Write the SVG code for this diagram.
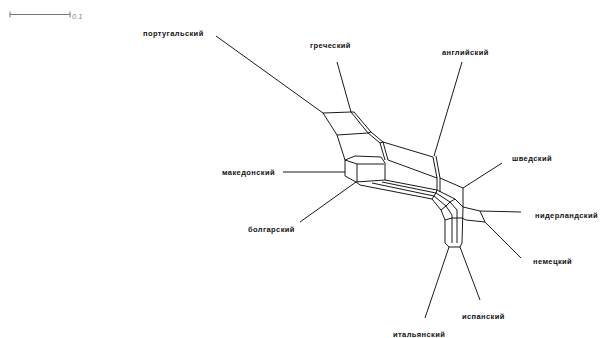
<svg xmlns="http://www.w3.org/2000/svg" width="602" height="338" viewBox="0 0 602 338">
<style>
.lbl{font-family:"Liberation Sans",Arial,sans-serif;font-size:7.5px;font-weight:bold;letter-spacing:0.4px;fill:#111}
.e{fill:none;stroke:#000;stroke-width:0.9;stroke-linejoin:round}
.sc{fill:none;stroke:#777;stroke-width:1}
</style>
<rect width="602" height="338" fill="#fff"/>
<g id="scale">
<path class="sc" d="M10 14.5H70M10 11.5V17.5M70 11.5V17.5"/>
<text x="72" y="19" font-family="Liberation Sans,Arial,sans-serif" font-size="7.5" font-style="italic" fill="#888">0.1</text>
</g>
<g id="portuguese"><path class="e" d="M216 36L323 113"/><text class="lbl" x="143" y="36">португальский</text></g>
<g id="greek"><path class="e" d="M337 62L351 112"/><text class="lbl" x="310" y="48">греческий</text></g>
<g id="english"><path class="e" d="M462 62L434 156"/><text class="lbl" x="442" y="55">английский</text></g>
<g id="swedish"><path class="e" d="M502 163L463 188"/><text class="lbl" x="512" y="161">шведский</text></g>
<g id="dutch"><path class="e" d="M521 212L480 211"/><text class="lbl" x="535" y="218">нидерландский</text></g>
<g id="german"><path class="e" d="M485 222L521 258"/><text class="lbl" x="533" y="264">немецкий</text></g>
<g id="spanish"><path class="e" d="M460 247L480 300"/><text class="lbl" x="462" y="319">испанский</text></g>
<g id="italian"><path class="e" d="M449 247L425 318"/><text class="lbl" x="393" y="337">итальянский</text></g>
<g id="macedonian"><path class="e" d="M283 172L345 172"/><text class="lbl" x="222" y="175">македонский</text></g>
<g id="bulgarian"><path class="e" d="M300 222L356 182"/><text class="lbl" x="248" y="232">болгарский</text></g>
<g id="connectors">
<path class="e" d="M323 113L351 112L368 133L380 143L385 160"/>
<path class="e" d="M354 112L371 132L383 142L388 160"/>
<path class="e" d="M351 112L354 112M368 133L371 132M380 143L383 142"/>
<path class="e" d="M323 113L337 135L345 160M337 135L368 133"/>
<path class="e" d="M383 142L433 157L437 178M436 156L440 178"/>
<path class="e" d="M388 160L437 178"/>
<path class="e" d="M345 160L355 156L381 157L385 163L385 180M345 160L357 164L384 164M357 164L357 182M345 160L345 176L356 182L385 180"/>
<path class="e" d="M440 178L463 188L463 207M437 178L437 190M440 178L440 192"/>
<path class="e" d="M385 180L437 190L455 199L463 207L462 243L460 247"/>
<path class="e" d="M382 182L436 193L450 202L457 210L457 243"/>
<path class="e" d="M372 183L434 196L446 206L452 215L452 243"/>
<path class="e" d="M356 182L360 185L432 199L441 210L445 220L445 243L449 247L460 247"/>
<path class="e" d="M437 190L436 193L434 196L432 199M455 199L450 202L446 206L441 210"/>
<path class="e" d="M445 220L452 218L457 218L462 218"/>
<path class="e" d="M463 207L480 211L485 222L466 220L462 218"/>
</g>
</svg>
